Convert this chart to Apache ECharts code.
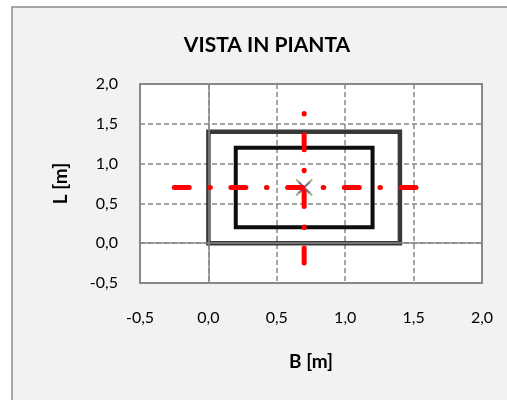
<!DOCTYPE html>
<html><head><meta charset="utf-8">
<script src="https://cdn.jsdelivr.net/npm/echarts@6/dist/echarts.min.js"></script>
<style>html,body{margin:0;padding:0;background:#fff;}#c{width:507px;height:400px;}</style>
</head><body><div id="c"></div>
<script>
const titleText = 'VISTA IN PIANTA';
const xAxisName = 'B [m]';
const yAxisName = 'L [m]';
const axisMin = -0.5, axisMax = 2.0, axisStep = 0.5;
const outerRectX = [0, 1.4, 1.4, 0, 0];
const outerRectY = [0, 0, 1.4, 1.4, 0];
const innerRectX = [0.2, 1.2, 1.2, 0.2, 0.2];
const innerRectY = [0.2, 0.2, 1.2, 1.2, 0.2];
const axisHX = [-0.25, 1.65];
const axisHY = [0.7, 0.7];
const axisVX = [0.7, 0.7];
const axisVY = [-0.25, 1.65];
const centroidX = [0.7];
const centroidY = [0.7];

const zip = (a, b) => a.map((v, i) => [v, b[i]]);
const FONT = 'Lato';
const fmt = v => v.toFixed(1).replace('.', ',');
const gridCol = '#888888';
const dashDot = [15, 20.6, 0.5, 20.6];
const xPath = 'path://M0,0L10,10M10,0L0,10';

const chart = echarts.init(document.getElementById('c'), null, {renderer: 'canvas'});
chart.setOption({
  backgroundColor: '#ffffff',
  animation: false,
  title: {
    text: titleText, left: 262, top: 30, textAlign: 'center',
    textStyle: {fontFamily: FONT, fontSize: 21, fontWeight: 'bold', color: '#000'}
  },
  graphic: [{
    type: 'rect', z: -10, silent: true,
    shape: {x: 12, y: 7, width: 520, height: 420},
    style: {fill: '#f2f2f2', stroke: '#8c8c8c', lineWidth: 1.5}
  }],
  grid: {
    left: 140, top: 84, right: 25, bottom: 117,
    show: true, backgroundColor: '#ffffff', borderColor: gridCol, borderWidth: 2
  },
  xAxis: {
    type: 'value', min: axisMin, max: axisMax, interval: axisStep,
    axisLine: {show: false}, axisTick: {show: false},
    axisLabel: {formatter: fmt, margin: 27, fontFamily: FONT, fontSize: 16, color: '#000'},
    splitLine: {show: true, lineStyle: {color: gridCol, width: 1.5, type: [5, 3]}},
    name: xAxisName, nameLocation: 'middle', nameGap: 69,
    nameTextStyle: {fontFamily: FONT, fontSize: 19, fontWeight: 'bold', color: '#000'}
  },
  yAxis: {
    type: 'value', min: axisMin, max: axisMax, interval: axisStep,
    axisLine: {show: false}, axisTick: {show: false},
    axisLabel: {formatter: fmt, margin: 22, fontFamily: FONT, fontSize: 16, color: '#000'},
    splitLine: {show: true, lineStyle: {color: gridCol, width: 1.5, type: [5, 3]}},
    name: yAxisName, nameLocation: 'middle', nameGap: 70, nameRotate: 90,
    nameTextStyle: {fontFamily: FONT, fontSize: 19, fontWeight: 'bold', color: '#000'}
  },
  series: [
    {
      type: 'line', data: [], z: 1, silent: true,
      markLine: {
        silent: true, symbol: 'none', label: {show: false},
        lineStyle: {color: gridCol, width: 1.5, type: 'solid'},
        data: [{xAxis: 0}, {yAxis: 0}]
      }
    },
    {
      type: 'line', z: 2, data: zip(outerRectX, outerRectY), symbol: 'none',
      lineStyle: {color: '#383838', width: 4.5, join: 'miter', cap: 'square'}
    },
    {
      type: 'line', z: 3, data: zip(innerRectX, innerRectY), symbol: 'none',
      lineStyle: {color: '#0d0d0d', width: 4, join: 'miter', cap: 'square'}
    },
    {
      type: 'scatter', z: 4, data: zip(centroidX, centroidY), symbol: xPath, symbolSize: 16,
      itemStyle: {color: 'rgba(0,0,0,0)', borderColor: '#8aa85a', borderWidth: 2}
    },
    {
      type: 'scatter', z: 5, data: zip(centroidX, centroidY), symbol: xPath, symbolSize: 11,
      itemStyle: {color: 'rgba(0,0,0,0)', borderColor: '#6f5fa0', borderWidth: 2}
    },
    {
      type: 'line', z: 6, data: zip(axisHX, axisHY), symbol: 'none',
      lineStyle: {color: '#ff0000', width: 5, type: dashDot, cap: 'round'}
    },
    {
      type: 'line', z: 6, data: zip(axisVX, axisVY), symbol: 'none',
      lineStyle: {color: '#ff0000', width: 5, type: dashDot, cap: 'round'}
    }
  ]
});
</script></body></html>
